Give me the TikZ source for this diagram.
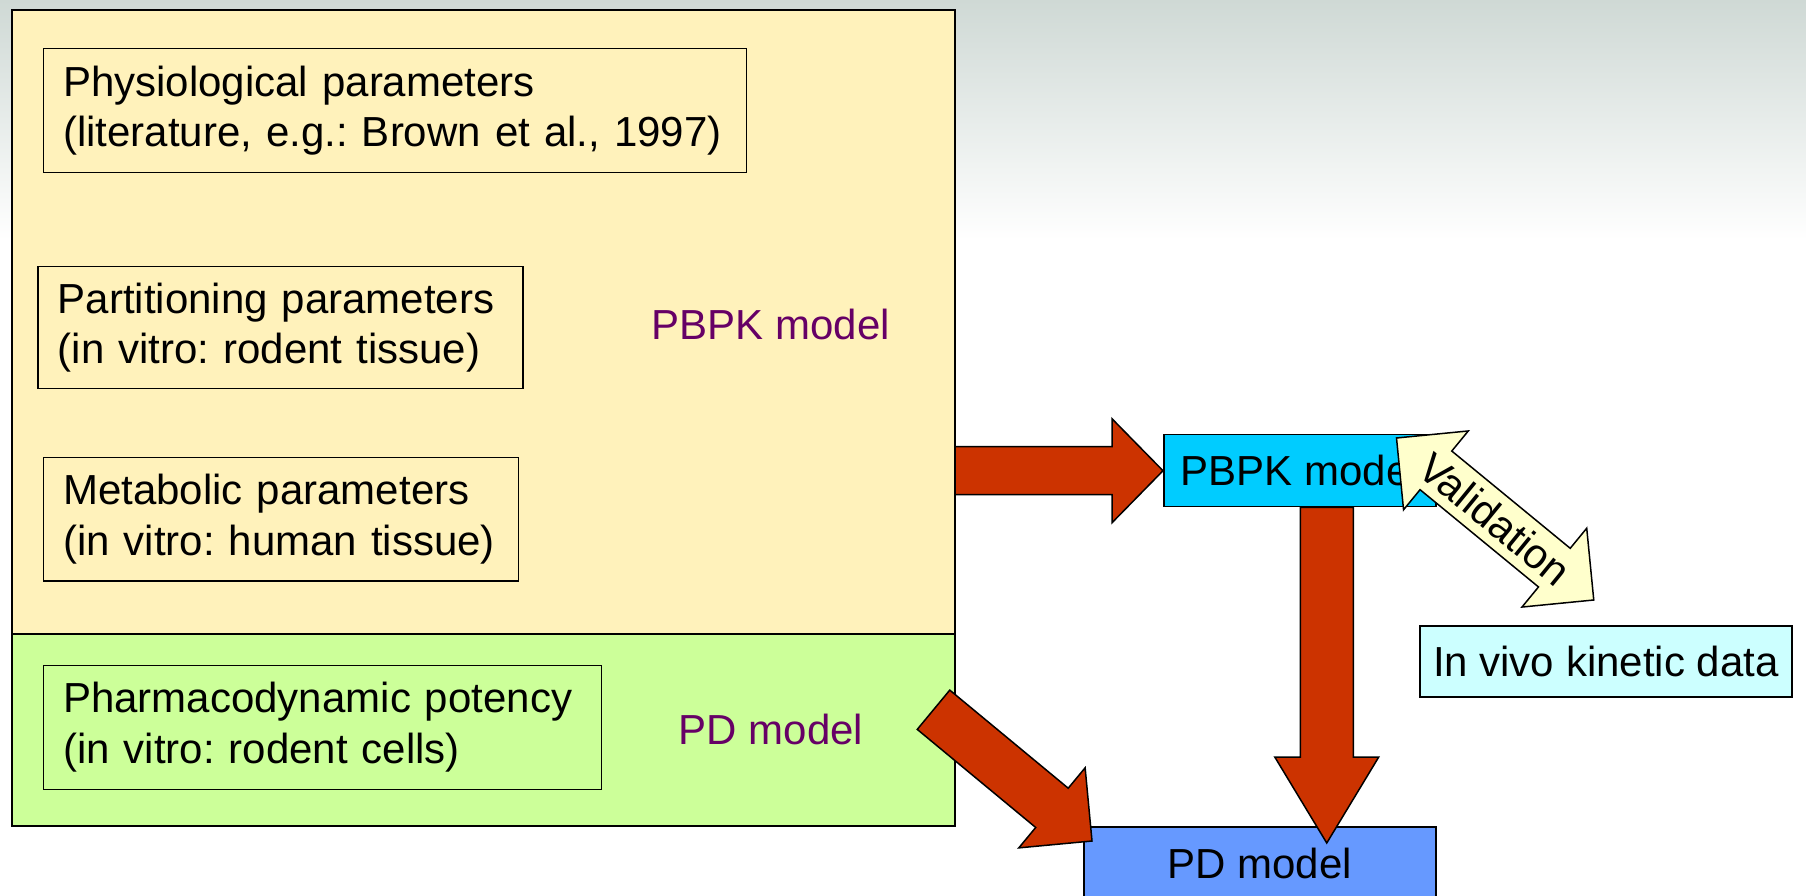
\documentclass[tikz,border=0pt]{standalone}
\usepackage{fontspec}
\setmainfont{Liberation Sans}
\usetikzlibrary{calc}
\frenchspacing
\hyphenpenalty=10000

\definecolor{panelyellow}{RGB}{255,242,187}
\definecolor{panelgreen}{RGB}{204,255,153}
\definecolor{pbpkcyan}{RGB}{0,204,255}
\definecolor{vivocyan}{RGB}{204,255,255}
\definecolor{pdblue}{RGB}{102,153,255}
\definecolor{arrowred}{RGB}{204,51,0}
\definecolor{valyellow}{RGB}{255,255,204}
\definecolor{labelpurple}{RGB}{102,0,102}
\definecolor{slidegray}{RGB}{207,217,213}

\tikzset{
  panel/.style={draw,line width=2pt,anchor=north west,inner sep=0pt,outer sep=0pt},
  parambox/.style={draw,line width=1.5pt,anchor=north west,align=left,inner xsep=20pt,inner ysep=0pt},
  modelbox/.style={draw,line width=1.5pt,anchor=north west,inner sep=0pt},
  redarrow/.style={fill=arrowred,draw=black,line width=1.5pt},
  valarrow/.style={fill=valyellow,draw=black,line width=1.5pt}
}

% block arrow: [style]{from}{to}{half shaft}{half head}{head length}
\newcommand{\blockarrow}[6][]{%
  \draw[#1] ($(#2)!#4!90:(#3)$)
    -- ($($(#3)!#6!(#2)$)!#4!90:(#3)$)
    -- ($($(#3)!#6!(#2)$)!#5!90:(#3)$)
    -- (#3)
    -- ($($(#3)!#6!(#2)$)!#5!-90:(#3)$)
    -- ($($(#3)!#6!(#2)$)!#4!-90:(#3)$)
    -- ($(#2)!#4!-90:(#3)$) -- cycle;}
\newcommand{\blockdarrow}[6][]{%
  \draw[#1] (#2)
    -- ($($(#2)!#6!(#3)$)!#5!90:(#3)$)
    -- ($($(#2)!#6!(#3)$)!#4!90:(#3)$)
    -- ($($(#3)!#6!(#2)$)!#4!90:(#3)$)
    -- ($($(#3)!#6!(#2)$)!#5!90:(#3)$)
    -- (#3)
    -- ($($(#3)!#6!(#2)$)!#5!-90:(#3)$)
    -- ($($(#3)!#6!(#2)$)!#4!-90:(#3)$)
    -- ($($(#2)!#6!(#3)$)!#4!-90:(#3)$)
    -- ($($(#2)!#6!(#3)$)!#5!-90:(#3)$) -- cycle;}

\begin{document}
\begin{tikzpicture}[x=1pt,y=1pt,font=\fontsize{42}{50.5}\selectfont]
\clip (0,0) rectangle (1806,895);
\fill[white] (0,0) rectangle (1806,895);
\shade[top color=slidegray,bottom color=white] (0,655) rectangle (1806,895);

\node[panel,fill=panelyellow,minimum width=943.5pt,minimum height=623pt] (pbpkpanel) at (11.5,884.5) {};
\node[panel,fill=panelgreen,minimum width=943.5pt,minimum height=192.5pt] (pdpanel) at (pbpkpanel.south west) {};

\node[parambox,minimum height=124pt,text width=663pt] (physio) at (42.5,847) {Physiological parameters\\(literature, e.g.: Brown et al., 1997)};
\node[parambox,minimum height=122pt,text width=445pt] (partition) at (37,629) {Partitioning parameters\\(in vitro: rodent tissue)};
\node[parambox,minimum height=123pt,text width=435pt] (metabolic) at (42.5,438) {Metabolic parameters\\(in vitro: human tissue)};
\node[parambox,minimum height=124pt,text width=518pt] (potency) at (42.5,230.5) {Pharmacodynamic potency\\(in vitro: rodent cells)};

\node[text=labelpurple] (pbpklabel) at (771,571) {PBPK model};
\node[text=labelpurple] (pdlabel) at (771,166) {PD model};

\node[modelbox,fill=pbpkcyan,minimum width=272pt,minimum height=72pt] (pbpk) at (1163,461) {PBPK model};
\node[modelbox,fill=vivocyan,minimum width=372pt,minimum height=71pt] (invivo) at (1419,270) {In vivo kinetic data};
\node[modelbox,fill=pdblue,minimum width=352pt,minimum height=74pt] (pdbox) at (1083,69) {PD model};

\coordinate (pbpkfeed) at (pbpkpanel.east |- pbpk.west);
\coordinate (pbpkdrop) at ($(pbpk.south)+(27,0)$);
\coordinate (pdtop) at ($(pdbox.north)+(67,-17)$);
\coordinate (pdtail) at ($(pdpanel.east)+(-21.5,20)$);
\coordinate (pdtip) at ($(pdbox.north west)+(9,-15)$);
\coordinate (valtop) at ($(pbpk.north east)+(-40,-4)$);
\coordinate (valbottom) at ($(invivo.north)+(-12,25)$);

\blockarrow[redarrow]{pbpkfeed}{pbpk.west}{24pt}{52pt}{51pt}
\blockarrow[redarrow]{pbpkdrop}{pdtop}{26.5pt}{52pt}{86pt}
\blockarrow[redarrow]{pdtail}{pdtip}{25.5pt}{52pt}{52pt}
\blockdarrow[valarrow]{valtop}{valbottom}{25pt}{51pt}{51pt}
\node[rotate=-39.3] (valtext) at ($(valtop)!0.5!(valbottom)$) {Validation};
\end{tikzpicture}
\end{document}
